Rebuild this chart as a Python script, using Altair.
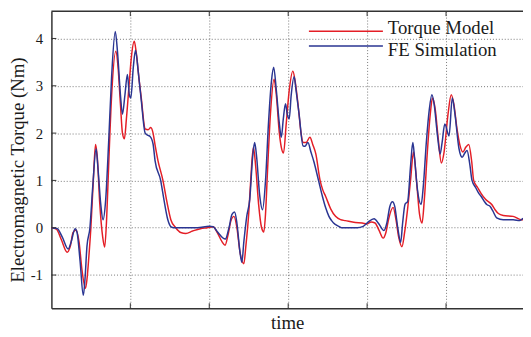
import altair as alt
import pandas as pd

series_names = ["Torque Model", "FE Simulation"]
series_colors = ["#e41e26", "#2a3592"]

model_t = [0.000, 0.063, 0.125, 0.200, 0.238, 0.275, 0.313, 0.350, 0.388, 0.431, 0.450, 0.475,
           0.500, 0.531, 0.559, 0.581, 0.613, 0.650, 0.675, 0.700, 0.725, 0.763, 0.816, 0.844,
           0.875, 0.900, 0.925, 0.950, 0.988, 1.013, 1.050, 1.075, 1.113, 1.138, 1.188, 1.225,
           1.259, 1.288, 1.313, 1.350, 1.413, 1.463, 1.513, 1.575, 1.638, 1.704, 1.788, 1.888,
           1.975, 2.050, 2.100, 2.163, 2.200, 2.238, 2.275, 2.313, 2.350, 2.388, 2.438, 2.463,
           2.500, 2.525, 2.559, 2.588, 2.625, 2.663, 2.691, 2.713, 2.738, 2.775, 2.821, 2.850,
           2.888, 2.913, 2.941, 2.975, 3.013, 3.059, 3.088, 3.125, 3.163, 3.188, 3.225, 3.275,
           3.313, 3.350, 3.404, 3.438, 3.475, 3.538, 3.600, 3.663, 3.725, 3.850, 3.938, 4.000,
           4.050, 4.100, 4.150, 4.204, 4.238, 4.275, 4.329, 4.363, 4.400, 4.441, 4.475, 4.513,
           4.550, 4.588, 4.625, 4.663, 4.696, 4.725, 4.763, 4.800, 4.829, 4.863, 4.900, 4.941,
           4.975, 5.025, 5.066, 5.100, 5.138, 5.175, 5.213, 5.250, 5.288, 5.325, 5.350, 5.400,
           5.441, 5.500, 5.579, 5.621, 5.663, 5.725, 5.850, 5.950, 5.975]
model_v = [0.00, -0.03, -0.25, -0.52, -0.40, -0.10, -0.05, -0.30, -0.90, -1.28, -1.10, -0.60,
           0.00, 1.00, 1.76, 1.50, 0.50, -0.20, -0.41, 0.20, 1.30, 2.80, 3.73, 3.40,
           2.60, 2.00, 1.88, 2.30, 3.10, 3.60, 3.94, 3.70, 3.10, 2.75, 2.09, 2.07,
           2.12, 2.00, 1.75, 1.42, 1.00, 0.55, 0.17, 0.00, -0.10, -0.12, -0.07, -0.02,
           0.00, 0.02, -0.10, -0.30, -0.37, -0.15, 0.15, 0.24, 0.00, -0.50, -0.76, -0.40,
           0.30, 1.00, 1.70, 1.30, 0.50, 0.00, -0.09, 0.30, 1.20, 2.40, 3.14, 2.80,
           2.00, 1.70, 1.58, 2.20, 2.90, 3.31, 3.10, 2.60, 2.00, 1.80, 1.80, 1.91,
           1.75, 1.56, 1.00, 0.80, 0.66, 0.40, 0.24, 0.17, 0.15, 0.11, 0.10, 0.08,
           0.12, 0.10, -0.05, -0.22, -0.10, 0.20, 0.43, 0.20, -0.20, -0.40, -0.10, 0.40,
           1.00, 1.60, 1.00, 0.30, 0.10, 0.60, 1.60, 2.40, 2.74, 2.50, 1.90, 1.37,
           1.60, 2.40, 2.81, 2.60, 2.10, 1.75, 1.60, 1.70, 1.76, 1.40, 1.00, 0.85,
           0.73, 0.60, 0.49, 0.38, 0.30, 0.26, 0.24, 0.17, 0.17]

fe_t = [0.000, 0.075, 0.138, 0.213, 0.250, 0.300, 0.325, 0.363, 0.404, 0.425, 0.450, 0.488,
        0.525, 0.566, 0.588, 0.625, 0.654, 0.688, 0.725, 0.763, 0.809, 0.838, 0.875, 0.900,
        0.931, 0.963, 0.988, 1.006, 1.038, 1.066, 1.100, 1.138, 1.188, 1.225, 1.250, 1.288,
        1.313, 1.384, 1.425, 1.475, 1.516, 1.550, 1.850, 2.000, 2.050, 2.100, 2.204, 2.250,
        2.288, 2.321, 2.350, 2.388, 2.413, 2.438, 2.475, 2.513, 2.550, 2.575, 2.600, 2.638,
        2.675, 2.713, 2.750, 2.788, 2.816, 2.850, 2.888, 2.913, 2.938, 2.966, 2.988, 3.013,
        3.038, 3.075, 3.100, 3.138, 3.188, 3.213, 3.250, 3.288, 3.325, 3.384, 3.434, 3.475,
        3.516, 3.550, 3.575, 3.641, 3.675, 3.875, 3.950, 4.013, 4.088, 4.150, 4.213, 4.250,
        4.288, 4.321, 4.350, 4.388, 4.425, 4.450, 4.481, 4.513, 4.550, 4.579, 4.600, 4.638,
        4.684, 4.713, 4.750, 4.788, 4.821, 4.850, 4.888, 4.925, 4.950, 4.984, 5.038, 5.079,
        5.113, 5.163, 5.204, 5.238, 5.266, 5.300, 5.329, 5.375, 5.413, 5.450, 5.488, 5.516,
        5.559, 5.591, 5.641, 5.725, 5.850, 5.934, 5.975]
fe_v = [0.00, -0.02, -0.20, -0.45, -0.30, -0.02, -0.10, -0.70, -1.43, -1.10, -0.40, 0.00,
        0.90, 1.67, 1.30, 0.50, 0.17, 0.60, 1.80, 3.20, 4.15, 3.70, 2.80, 2.40,
        2.80, 3.24, 2.80, 2.74, 3.40, 3.75, 3.30, 2.70, 2.00, 1.95, 1.93, 1.77,
        1.42, 1.00, 0.60, 0.17, 0.02, 0.00, 0.00, 0.03, 0.02, -0.08, -0.24, 0.00,
        0.28, 0.33, 0.10, -0.50, -0.73, -0.30, 0.24, 0.60, 1.50, 1.80, 1.50, 0.70,
        0.38, 1.00, 2.20, 3.10, 3.39, 2.90, 2.20, 1.91, 2.30, 2.62, 2.40, 2.30,
        2.80, 3.19, 2.90, 2.40, 1.73, 1.72, 1.80, 1.60, 1.40, 1.00, 0.66, 0.42,
        0.24, 0.15, 0.10, 0.03, 0.00, 0.00, 0.03, 0.12, 0.19, 0.08, -0.06, 0.10,
        0.45, 0.55, 0.45, 0.00, -0.31, 0.10, 0.50, 0.55, 1.30, 1.80, 1.50, 0.80,
        0.49, 0.90, 1.80, 2.50, 2.81, 2.60, 2.00, 1.56, 1.80, 2.19, 1.94, 2.74,
        2.40, 1.68, 1.49, 1.58, 1.63, 1.35, 1.00, 0.85, 0.73, 0.65, 0.55, 0.49,
        0.45, 0.36, 0.21, 0.17, 0.17, 0.15, 0.20]

y_ticks = [-1, 0, 1, 2, 3, 4]
x_ticks = [1, 2, 3, 4, 5]
x_title = "time"
y_title = "Electromagnetic Torque (Nm)"

FONT = "Liberation Serif"
TXT = "#1a1a1a"
W, H = 478, 301

x_scale = alt.Scale(domain=[0, 5.975], nice=False, zero=False)
y_scale = alt.Scale(domain=[-1.7, 4.577], nice=False, zero=False)

df = pd.concat([
    pd.DataFrame({"t": model_t, "v": model_v, "series": series_names[0]}),
    pd.DataFrame({"t": fe_t, "v": fe_v, "series": series_names[1]}),
], ignore_index=True)

lines = alt.Chart(df).mark_line(strokeWidth=1.5, interpolate="monotone", clip=True).encode(
    x=alt.X("t:Q", scale=x_scale, axis=alt.Axis(
        values=x_ticks, labels=False, ticks=False, tickSize=0, domain=True,
        domainColor="#333333", domainWidth=1.5, grid=True, gridColor="#777777",
        gridDash=[1, 2], gridWidth=1, title=x_title, titleFont=FONT, titleFontSize=19,
        titleFontWeight="normal", titleColor=TXT, titleY=21, titleBaseline="alphabetic")),
    y=alt.Y("v:Q", scale=y_scale, axis=alt.Axis(
        values=y_ticks, ticks=False, tickSize=0, domain=True, domainColor="#333333",
        domainWidth=1.5, grid=True, gridColor="#777777", gridDash=[1, 2], gridWidth=1,
        labelPadding=9, labelExpr="'' + datum.value", labelFont=FONT, labelFontSize=15,
        labelColor=TXT, title=y_title, titleFont=FONT, titleFontSize=19,
        titleFontWeight="normal", titleColor=TXT, titleAngle=270, titleX=-28,
        titleY=160.5, titleAlign="center", titleBaseline="alphabetic")),
    color=alt.Color("series:N", scale=alt.Scale(domain=series_names, range=series_colors),
                    legend=None),
)

ytick_df = pd.DataFrame({"v": y_ticks})
xtick_df = pd.DataFrame({"t": x_ticks})

left_ticks = alt.Chart(ytick_df).mark_rule(color="#333333", strokeWidth=1).encode(
    y=alt.Y("v:Q", scale=y_scale), x=alt.value(0), x2=alt.value(5))
bottom_ticks = alt.Chart(xtick_df).mark_rule(color="#333333", strokeWidth=1).encode(
    x=alt.X("t:Q", scale=x_scale), y=alt.value(H), y2=alt.value(H - 5))
top_ticks = alt.Chart(xtick_df).mark_rule(color="#333333", strokeWidth=1).encode(
    x=alt.X("t:Q", scale=x_scale), y=alt.value(0), y2=alt.value(5))
top_frame = alt.Chart(pd.DataFrame({"a": [0]})).mark_rule(color="#333333", strokeWidth=1.5).encode(
    x=alt.value(0), x2=alt.value(W), y=alt.value(0))

legend_layers = []
for i, (name, col) in enumerate(zip(series_names, series_colors)):
    ldf = pd.DataFrame({"label": [name]})
    legend_layers.append(alt.Chart(ldf).mark_rule(color=col, strokeWidth=1.5).encode(
        x=alt.value(261), x2=alt.value(336), y=alt.value(20.3 + 15 * i)))
    legend_layers.append(alt.Chart(ldf).mark_text(
        align="left", baseline="alphabetic", font=FONT, fontSize=19, color=TXT).encode(
        x=alt.value(341), y=alt.value(22.7 + 22.6 * i), text="label:N"))

chart = alt.layer(lines, left_ticks, bottom_ticks, top_ticks, top_frame, *legend_layers).properties(
    width=W, height=H,
    autosize=alt.AutoSizeParams(type="none"),
    padding={"left": 44, "top": 1, "right": 0, "bottom": 26},
    background="white",
).configure_view(stroke=None).configure_axis(
    labelFont=FONT, titleFont=FONT, labelFontSize=15, titleFontSize=19,
).configure_text(font=FONT)

chart.save("out.html", embed_options={"renderer": "svg", "actions": False})
